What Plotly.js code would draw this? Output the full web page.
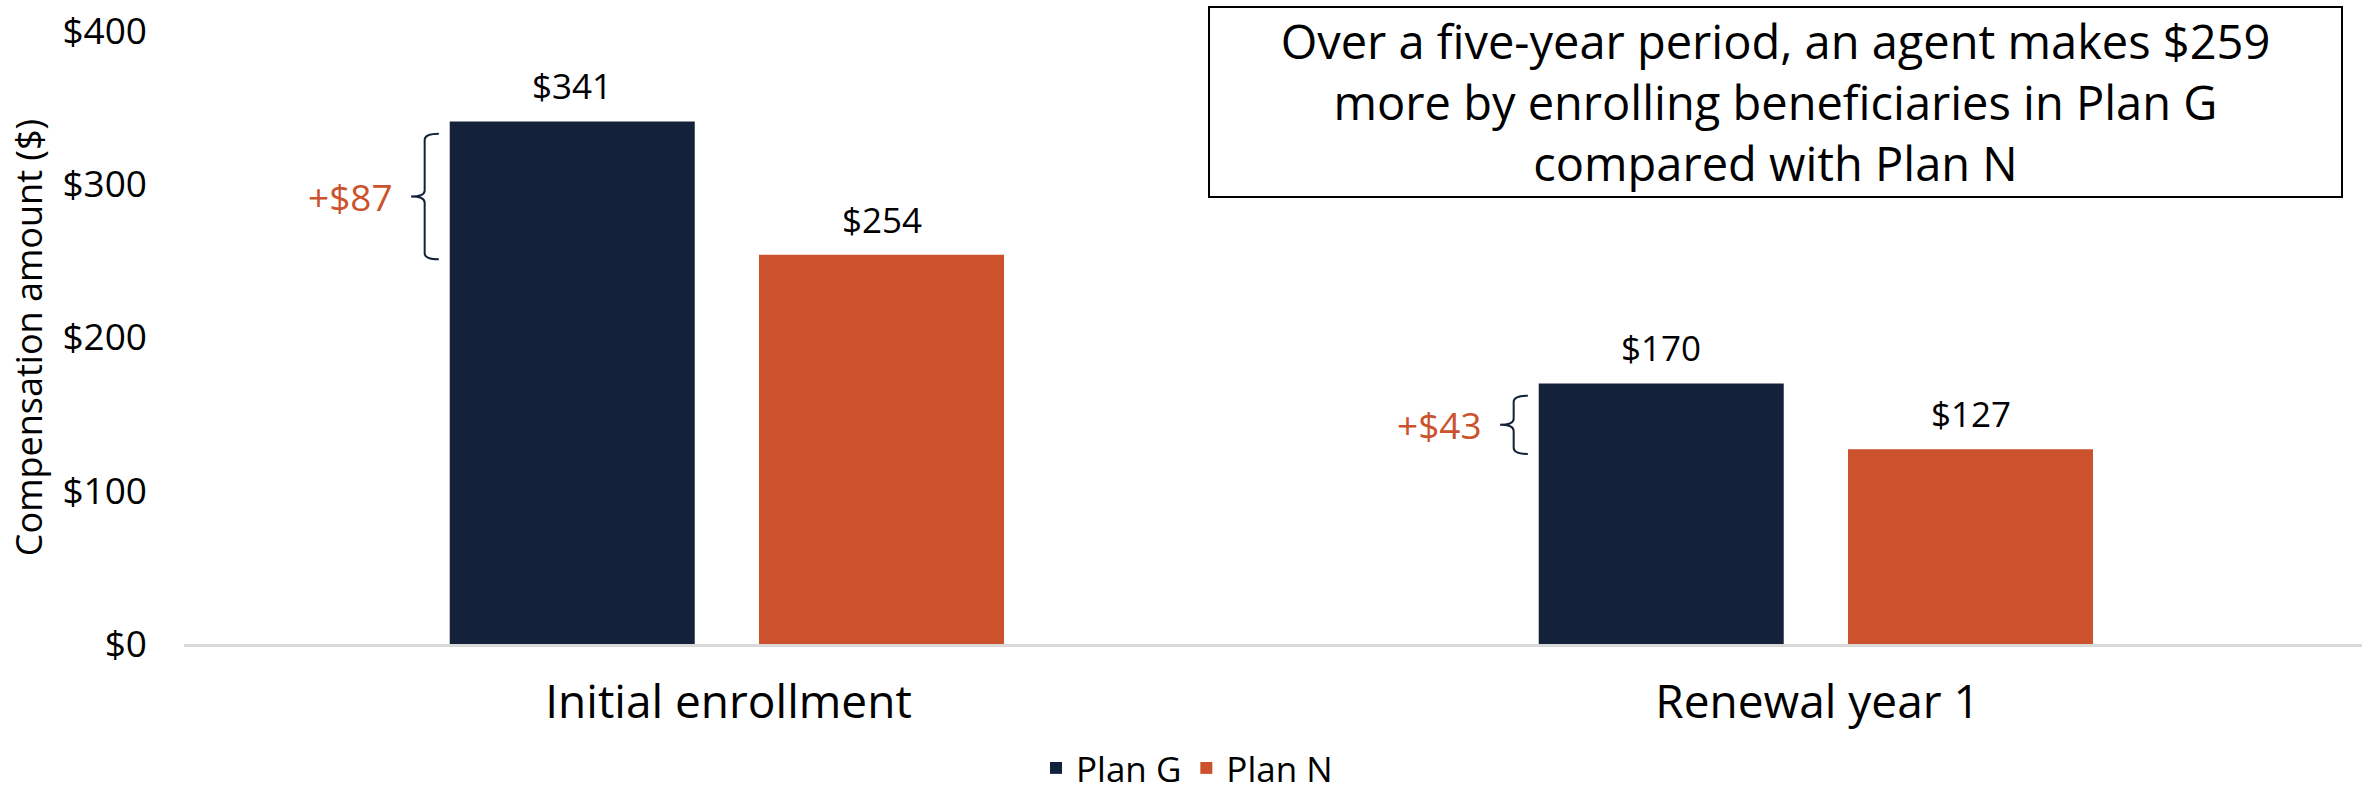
<!DOCTYPE html>
<html><head><meta charset="utf-8">
<script src="https://cdn.plot.ly/plotly-3.0.1.min.js"></script>
<style>html,body{margin:0;padding:0;background:#fff}#chart{width:2374px;height:796px}</style>
</head><body><div id="chart"></div>
<script>
const categories = ['Initial enrollment', 'Renewal year 1'];
const planG = [341, 170];
const planN = [254, 127];
const seriesNames = ['Plan G', 'Plan N'];
const yTickVals = [0, 100, 200, 300, 400];
const yTickText = ['$0', '$100', '$200', '$300', '$400'];
const yTitle = 'Compensation amount ($)';
const calloutText = 'Over a five-year period, an agent makes $259<br>more by enrolling beneficiaries in Plan G<br>compared with Plan N';

const NAVY = '#14213a', ORANGE = '#cb522d';
const FONT = '"Open Sans", sans-serif';
const BAR_W = 0.225, OFF_G = -0.256, OFF_N = 0.028;

const traces = [
  {type:'bar', name: seriesNames[0], x: categories, y: planG, width: BAR_W, offset: OFF_G,
   marker:{color: NAVY}, hoverinfo:'none'},
  {type:'bar', name: seriesNames[1], x: categories, y: planN, width: BAR_W, offset: OFF_N,
   marker:{color: ORANGE}, hoverinfo:'none'}
];

const annotations = [];
const shapes = [];
categories.forEach((c, i) => {
  annotations.push({x: i + OFF_G + BAR_W/2, y: planG[i], xref:'x', yref:'y', text: '$' + planG[i],
    showarrow:false, yanchor:'bottom', yshift: 10, font:{size:35, color:'#000'}});
  annotations.push({x: i + OFF_N + BAR_W/2, y: planN[i], xref:'x', yref:'y', text: '$' + planN[i],
    showarrow:false, yanchor:'bottom', yshift: 10, font:{size:35, color:'#000'}});
  const top = planG[i] - 8, bot = planN[i] - 3, mid = (top + bot) / 2, d = 4;
  const xt = i - 0.2915, xs = i - 0.279, xe = i - 0.266;
  shapes.push({type:'path', xref:'x', yref:'y', line:{color: NAVY, width: 2},
    path: `M ${xe},${top} Q ${xs},${top} ${xs},${top-d} L ${xs},${mid+d} Q ${xs},${mid} ${xt},${mid} ` +
          `Q ${xs},${mid} ${xs},${mid-d} L ${xs},${bot+d} Q ${xs},${bot} ${xe},${bot}`});
  annotations.push({x: i - 0.3066, y: mid, xref:'x', yref:'y', text: '+$' + (planG[i] - planN[i]),
    showarrow:false, xanchor:'right', yanchor:'middle', font:{size:37, color: ORANGE}});
});

annotations.push({xref:'paper', yref:'paper', x:0.7305, y:0.884, xanchor:'center', yanchor:'middle',
  text: calloutText, showarrow:false, align:'center', font:{size:47, color:'#000'},
  bordercolor:'#000', borderwidth:2, borderpad:0, bgcolor:'#fff', width:1131, height:188});

const layout = {
  width:2374, height:796, margin:{l:184, r:12, t:31, b:152},
  paper_bgcolor:'#fff', plot_bgcolor:'#fff',
  font:{family: FONT, color:'#000'},
  barmode:'overlay',
  showlegend:true,
  legend:{orientation:'h', xref:'container', x:0.5, xanchor:'center', yref:'container', y:0.035, yanchor:'middle',
    font:{size:35}, traceorder:'normal'},
  xaxis:{type:'category', range:[-0.5, 1.5], showline:true, linecolor:'#d9d9d9', linewidth:3, ticks:'',
    tickfont:{size:46}, ticklabelstandoff:16, showgrid:false, zeroline:false, fixedrange:true},
  yaxis:{range:[0, 400], tickvals: yTickVals, ticktext: yTickText, tickfont:{size:37}, showgrid:false,
    zeroline:false, showline:false, ticklabelstandoff:36, fixedrange:true,
    title:{text: yTitle, font:{size:36}, standoff:8}},
  annotations: annotations,
  shapes: shapes
};

Plotly.newPlot('chart', traces, layout, {staticPlot:true, displayModeBar:false});
</script>
</body></html>
